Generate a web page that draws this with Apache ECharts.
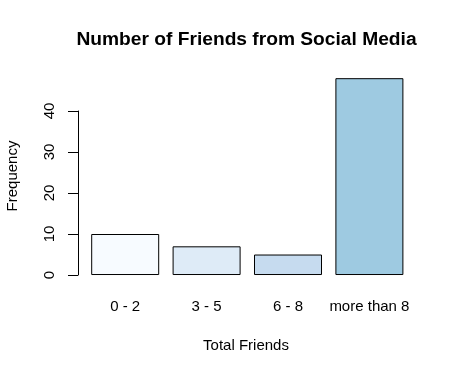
<!DOCTYPE html>
<html>
<head>
<meta charset="utf-8">
<script src="https://cdn.jsdelivr.net/npm/echarts@6/dist/echarts.min.js"></script>
<style>
html,body{margin:0;padding:0;background:#fff;}
#chart{width:456px;height:375px;}
</style>
</head>
<body>
<div id="chart"></div>
<script>
var categories = ['0 - 2', '3 - 5', '6 - 8', 'more than 8'];
var frequencies = [10, 7, 5, 48];
var yTicks = [0, 10, 20, 30, 40];
var titleText = 'Number of Friends from Social Media';
var xTitle = 'Total Friends';
var yTitle = 'Frequency';

var barColors = ['#F7FBFF', '#DEEBF7', '#C6DBEF', '#9ECAE1'];
var FONT = "'Liberation Sans', Arial, sans-serif";

var chart = echarts.init(document.getElementById('chart'), null, {renderer: 'canvas'});

var option = {
  animation: false,
  backgroundColor: '#ffffff',
  grid: [
    {left: 84.5, right: 45.9, top: 70.3, bottom: 92.1, containLabel: false},
    {left: 78, width: 10, top: 111, height: 164, containLabel: false}
  ],
  xAxis: [
    {
      type: 'category', gridIndex: 0, data: categories, boundaryGap: true,
      axisLine: {show: false}, axisTick: {show: false}, splitLine: {show: false},
      axisLabel: {color: '#000', fontSize: 15, fontFamily: FONT, margin: 16.6, interval: 0}
    },
    {type: 'value', gridIndex: 1, show: false, min: 0, max: 1}
  ],
  yAxis: [
    {type: 'value', gridIndex: 0, show: false, min: -1.92, max: 49.92},
    {
      type: 'value', gridIndex: 1, min: yTicks[0], max: yTicks[yTicks.length - 1], interval: 10,
      axisLine: {show: true, lineStyle: {color: '#000', width: 1}},
      axisTick: {show: true, length: 10, lineStyle: {color: '#000', width: 1}},
      splitLine: {show: false},
      axisLabel: {show: true, rotate: 90, margin: 20.5, color: '#000', fontSize: 15, fontFamily: FONT}
    }
  ],
  series: [
    {
      type: 'bar', xAxisIndex: 0, yAxisIndex: 0, barWidth: 68,
      data: frequencies.map(function (v, i) {
        return {value: v, itemStyle: {color: barColors[i], borderColor: '#000', borderWidth: 1}};
      })
    },
    {type: 'scatter', xAxisIndex: 1, yAxisIndex: 1, data: []}
  ],
  graphic: [
    {type: 'text', x: 246.5, y: 40, style: {text: titleText, fill: '#000', fontSize: 19.2, fontWeight: 'bold', fontFamily: FONT, textAlign: 'center', textVerticalAlign: 'middle'}},
    {type: 'text', x: 246, y: 346.1, style: {text: xTitle, fill: '#000', fontSize: 15, fontFamily: FONT, textAlign: 'center', textVerticalAlign: 'middle'}},
    {type: 'text', x: 13.3, y: 176, rotation: Math.PI / 2, style: {text: yTitle, fill: '#000', fontSize: 15, fontFamily: FONT, textAlign: 'center', textVerticalAlign: 'middle'}}
  ]
};
chart.setOption(option);
</script>
</body>
</html>
